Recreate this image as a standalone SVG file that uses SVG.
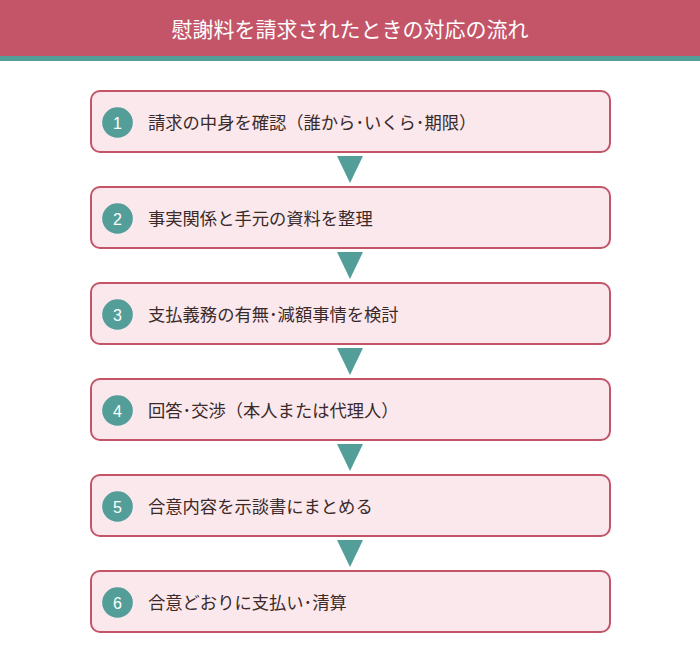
<svg xmlns="http://www.w3.org/2000/svg" width="700" height="662" viewBox="0 0 700 662">
<style>
.box{fill:#FBE8EC;stroke:#C45568;stroke-width:2}
.num{fill:#539E99}
.nt{fill:#fff;font-family:"Liberation Sans","Noto Sans CJK JP",sans-serif;font-size:16px;text-anchor:middle}
.lbl{fill:#3a2a2a;font-family:"Noto Sans CJK JP",sans-serif;font-size:17.3px}
.arr{fill:#539E99}
</style>
<rect x="0" y="0" width="700" height="56" fill="#C45568"/>
<rect x="0" y="56" width="700" height="5" fill="#539E99"/>
<text x="350" y="37" fill="#fff" font-family="'Noto Sans CJK JP',sans-serif" font-size="21" text-anchor="middle">慰謝料を請求されたときの対応の流れ</text>
<g id="connectors">
<polygon class="arr" points="337,156 363,156 350,183"/>
<polygon class="arr" points="337,252 363,252 350,279"/>
<polygon class="arr" points="337,348 363,348 350,375"/>
<polygon class="arr" points="337,444 363,444 350,471"/>
<polygon class="arr" points="337,540 363,540 350,567"/>
</g>
<g id="step1"><rect class="box" x="91" y="91" width="519" height="61" rx="9"/><circle class="num" cx="117.5" cy="122.5" r="15.3"/><text class="nt" x="117.5" y="128.5">1</text><text class="lbl" x="148" y="128.5">請求の中身を確認（誰から･いくら･期限）</text></g>
<g id="step2"><rect class="box" x="91" y="187" width="519" height="61" rx="9"/><circle class="num" cx="117.5" cy="218.5" r="15.3"/><text class="nt" x="117.5" y="224.5">2</text><text class="lbl" x="148" y="224.5">事実関係と手元の資料を整理</text></g>
<g id="step3"><rect class="box" x="91" y="283" width="519" height="61" rx="9"/><circle class="num" cx="117.5" cy="314.5" r="15.3"/><text class="nt" x="117.5" y="320.5">3</text><text class="lbl" x="148" y="320.5">支払義務の有無･減額事情を検討</text></g>
<g id="step4"><rect class="box" x="91" y="379" width="519" height="61" rx="9"/><circle class="num" cx="117.5" cy="410.5" r="15.3"/><text class="nt" x="117.5" y="416.5">4</text><text class="lbl" x="148" y="416.5">回答･交渉（本人または代理人）</text></g>
<g id="step5"><rect class="box" x="91" y="475" width="519" height="61" rx="9"/><circle class="num" cx="117.5" cy="506.5" r="15.3"/><text class="nt" x="117.5" y="512.5">5</text><text class="lbl" x="148" y="512.5">合意内容を示談書にまとめる</text></g>
<g id="step6"><rect class="box" x="91" y="571" width="519" height="61" rx="9"/><circle class="num" cx="117.5" cy="602.5" r="15.3"/><text class="nt" x="117.5" y="608.5">6</text><text class="lbl" x="148" y="608.5">合意どおりに支払い･清算</text></g>
</svg>
